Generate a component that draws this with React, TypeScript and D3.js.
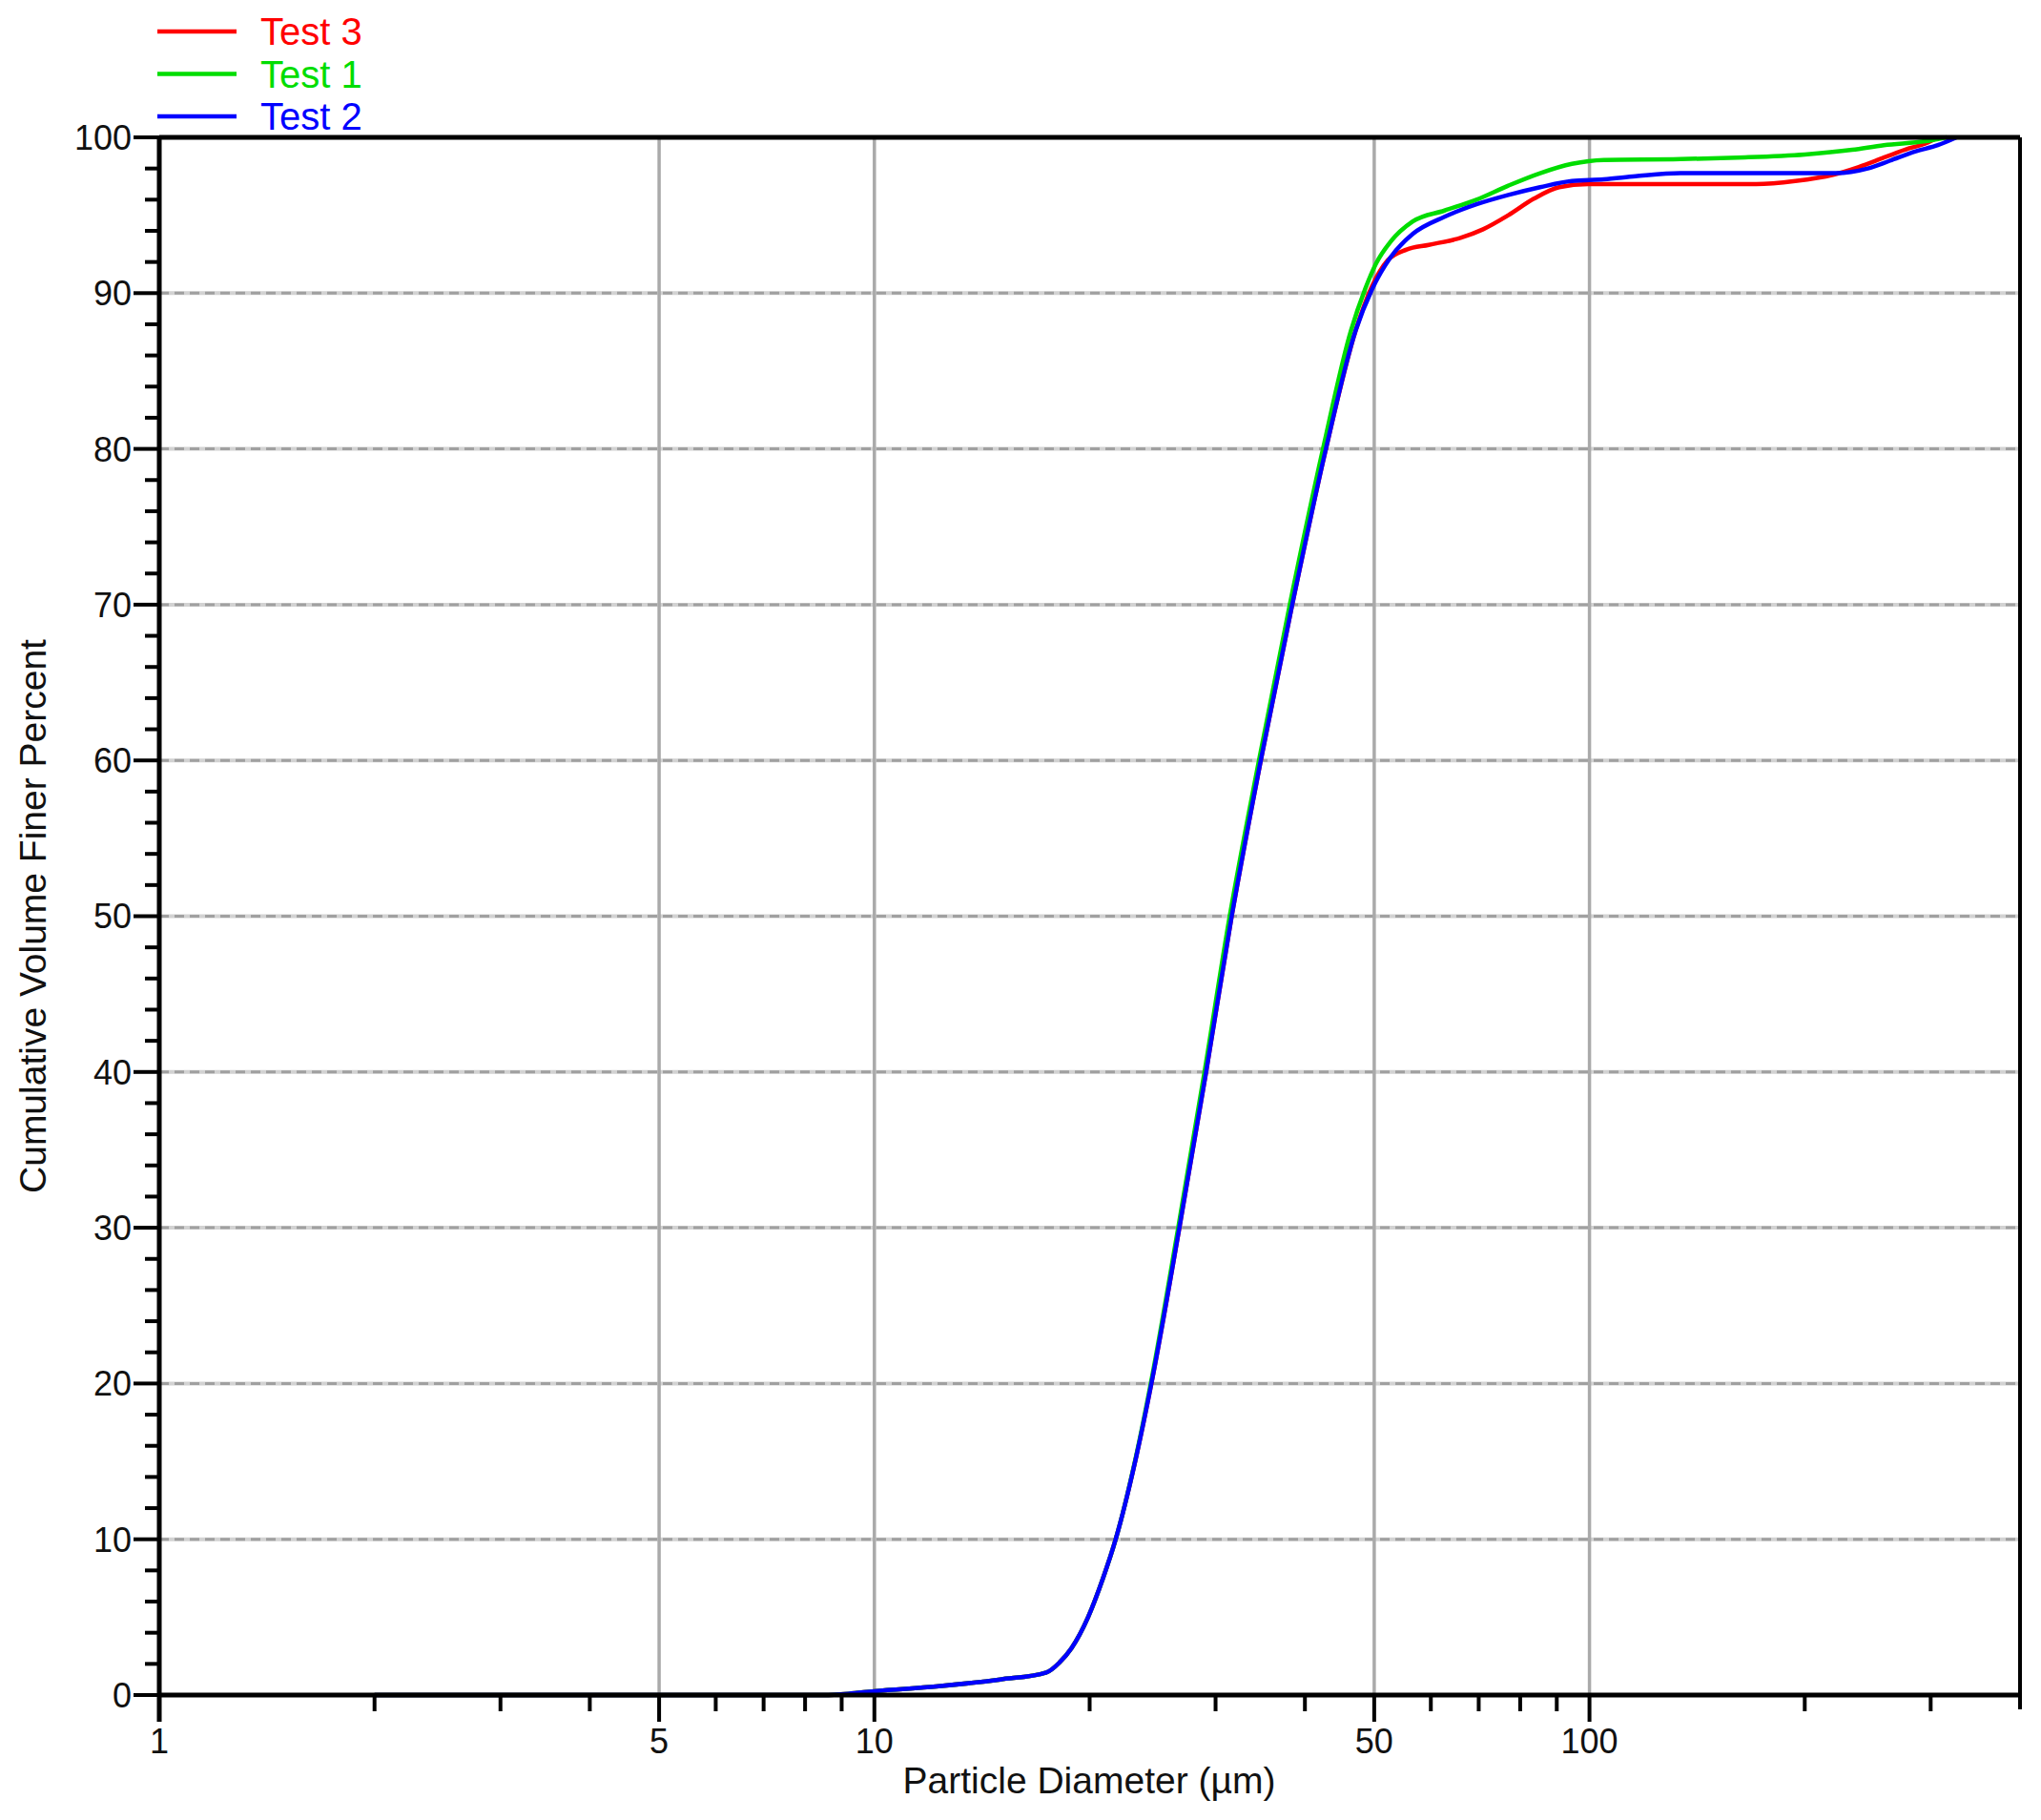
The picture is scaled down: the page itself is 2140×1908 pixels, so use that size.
import React from "react";
import * as d3 from "d3";

// ---- data (particle diameter µm, cumulative volume finer %) ----
const test2: [number, number][] = [
  [2, 0], [5, 0], [8.5, 0], [9.2, 0.08], [10, 0.25], [12.2, 0.55], [15, 1.0], [17.4, 1.45],
  [18.16, 2.1], [18.86, 3], [19.9, 5], [20.88, 7.5], [21.75, 10], [23.16, 15], [24.4, 20],
  [26.7, 30], [29.1, 40], [31.6, 50], [34.7, 60], [38.4, 70], [42.8, 80], [47.1, 87.6],
  [49.6, 90.2], [52.7, 92.3], [56.6, 93.8], [62.7, 94.9], [69.5, 95.7], [77, 96.3],
  [85.3, 96.8], [94.5, 97.2], [104.7, 97.3], [116, 97.5], [134, 97.7], [221, 97.7],
  [245, 98.0], [263, 98.5], [286, 99.1], [307, 99.5], [326, 100],
];
const test1: [number, number][] = [
  [2, 0], [5, 0], [8.5, 0], [9.2, 0.08], [10, 0.25], [12.2, 0.55], [15, 1.0], [17.4, 1.45],
  [18.16, 2.1], [18.86, 3], [19.9, 5], [20.88, 7.5], [21.75, 10], [23.14, 15], [24.35, 20],
  [26.6, 30], [28.95, 40], [31.4, 50], [34.5, 60], [38.1, 70], [42.4, 80], [46.4, 87.6],
  [48.6, 90.3], [50.3, 91.9], [52.7, 93.3], [56.6, 94.6], [62.7, 95.3], [69.5, 96.0],
  [77, 96.9], [85.3, 97.7], [94.5, 98.3], [104.7, 98.55], [134, 98.6], [161, 98.7],
  [200, 98.9], [233, 99.2], [258, 99.5], [295, 99.75], [316, 100],
];
const test3: [number, number][] = [
  [2, 0], [5, 0], [8.5, 0], [9.2, 0.08], [10, 0.25], [12.2, 0.55], [15, 1.0], [17.4, 1.45],
  [18.16, 2.1], [18.86, 3], [19.9, 5], [20.88, 7.5], [21.75, 10], [23.16, 15], [24.4, 20],
  [26.7, 30], [29.1, 40], [31.6, 50], [34.7, 60], [38.4, 70], [42.8, 80], [47.1, 87.6],
  [49.6, 90.4], [52.2, 92.1], [55.5, 92.8], [59.6, 93.1], [66, 93.55], [71, 94.1],
  [77, 95.0], [83.6, 96.06], [90.7, 96.8], [99.5, 97.0], [134, 97.0], [171, 97.0],
  [194, 97.2], [219, 97.6], [238, 98.1], [258, 98.7], [280, 99.3], [295, 99.6], [307, 100],
];

const seriesNames = ["Test 3", "Test 1", "Test 2"];
const seriesColors = ["#ff0000", "#00dd00", "#0000ff"];
const seriesData = [test3, test1, test2];

const xLabeledTicks = [1, 5, 10, 50, 100];
const xMinorTicks = [2, 3, 4, 6, 7, 8, 9, 20, 30, 40, 60, 70, 80, 90, 200, 300];
const xGridTicks = [5, 10, 50, 100];
const yMajorTicks = [0, 10, 20, 30, 40, 50, 60, 70, 80, 90, 100];
const yGridTicks = [10, 20, 30, 40, 50, 60, 70, 80, 90];
const yMinorTicks = d3.range(0, 100, 2).filter((v) => v % 10 !== 0);

const xTitle = "Particle Diameter (µm)";
const yTitle = "Cumulative Volume Finer Percent";

const W = 2140;
const H = 1908;
const L = 167, R = 2118, T = 144, B = 1777;
const FONT = "'Liberation Sans', Arial, sans-serif";

export default function App() {
  const x = d3.scaleLog().domain([1, 400]).range([L, R]);
  const y = d3.scaleLinear().domain([0, 100]).range([B, T]);
  const line = d3
    .line<[number, number]>()
    .x((d) => x(d[0]))
    .y((d) => y(d[1]))
    .curve(d3.curveMonotoneX);

  return (
    <div style={{ position: "absolute", left: 0, top: 0 }}>
      <svg width={W} height={H} style={{ display: "block", background: "#fff" }} fontFamily={FONT}>
        <rect x={0} y={0} width={W} height={H} fill="#fff" />
        {/* grid */}
        {yGridTicks.map((v) => (
          <g key={"hg" + v}>
            <line x1={L} x2={R} y1={y(v)} y2={y(v)} stroke="#d2d2d2" strokeWidth={4} />
            <line x1={L} x2={R} y1={y(v)} y2={y(v)} stroke="#a0a0a0" strokeWidth={3} strokeDasharray="10 6" />
          </g>
        ))}
        {xGridTicks.map((v) => (
          <line key={"vg" + v} x1={x(v)} x2={x(v)} y1={T} y2={B} stroke="#aaaaaa" strokeWidth={3.5} />
        ))}

        {/* curves */}
        {seriesData.map((s, i) => (
          <path key={"s" + i} d={line(s) || ""} fill="none" stroke={seriesColors[i]} strokeWidth={4.5} strokeLinejoin="round" />
        ))}

        {/* frame */}
        <line x1={L} x2={R} y1={T} y2={T} stroke="#000" strokeWidth={5} />
        <line x1={R} x2={R} y1={T} y2={B + 15} stroke="#000" strokeWidth={4} />
        <line x1={L} x2={R + 2} y1={B} y2={B} stroke="#000" strokeWidth={5} />
        <line x1={L} x2={L} y1={T - 2} y2={B + 28} stroke="#000" strokeWidth={5} />

        {/* y ticks */}
        {yMajorTicks.map((v) => (
          <g key={"yt" + v}>
            <line x1={L - 27} x2={L} y1={y(v)} y2={y(v)} stroke="#000" strokeWidth={4} />
            <text x={L - 29} y={y(v)} dy="0.36em" textAnchor="end" fontSize={36} fill="#111">
              {v}
            </text>
          </g>
        ))}
        {yMinorTicks.map((v) => (
          <line key={"ym" + v} x1={L - 15} x2={L} y1={y(v)} y2={y(v)} stroke="#000" strokeWidth={4} />
        ))}

        {/* x ticks */}
        {xLabeledTicks.map((v) => (
          <g key={"xt" + v}>
            <line x1={x(v)} x2={x(v)} y1={B} y2={B + 28} stroke="#000" strokeWidth={4} />
            <text x={x(v)} y={1838} textAnchor="middle" fontSize={36} fill="#111">
              {v}
            </text>
          </g>
        ))}
        {xMinorTicks.map((v) => (
          <line key={"xm" + v} x1={x(v)} x2={x(v)} y1={B} y2={B + 17} stroke="#000" strokeWidth={4} />
        ))}

        {/* axis titles */}
        <text x={1142} y={1880} textAnchor="middle" fontSize={39} fill="#111">
          {xTitle}
        </text>
        <text
          transform={`translate(48, ${(T + B) / 2}) rotate(-90)`}
          textAnchor="middle"
          fontSize={39}
          fill="#111"
        >
          {yTitle}
        </text>

        {/* legend */}
        {seriesNames.map((n, i) => (
          <g key={"lg" + i}>
            <line x1={165} x2={248} y1={33 + i * 44.5} y2={33 + i * 44.5} stroke={seriesColors[i]} strokeWidth={4.5} />
            <text x={273} y={47 + i * 44.5} fontSize={40} fill={seriesColors[i]}>
              {n}
            </text>
          </g>
        ))}
      </svg>
    </div>
  );
}
